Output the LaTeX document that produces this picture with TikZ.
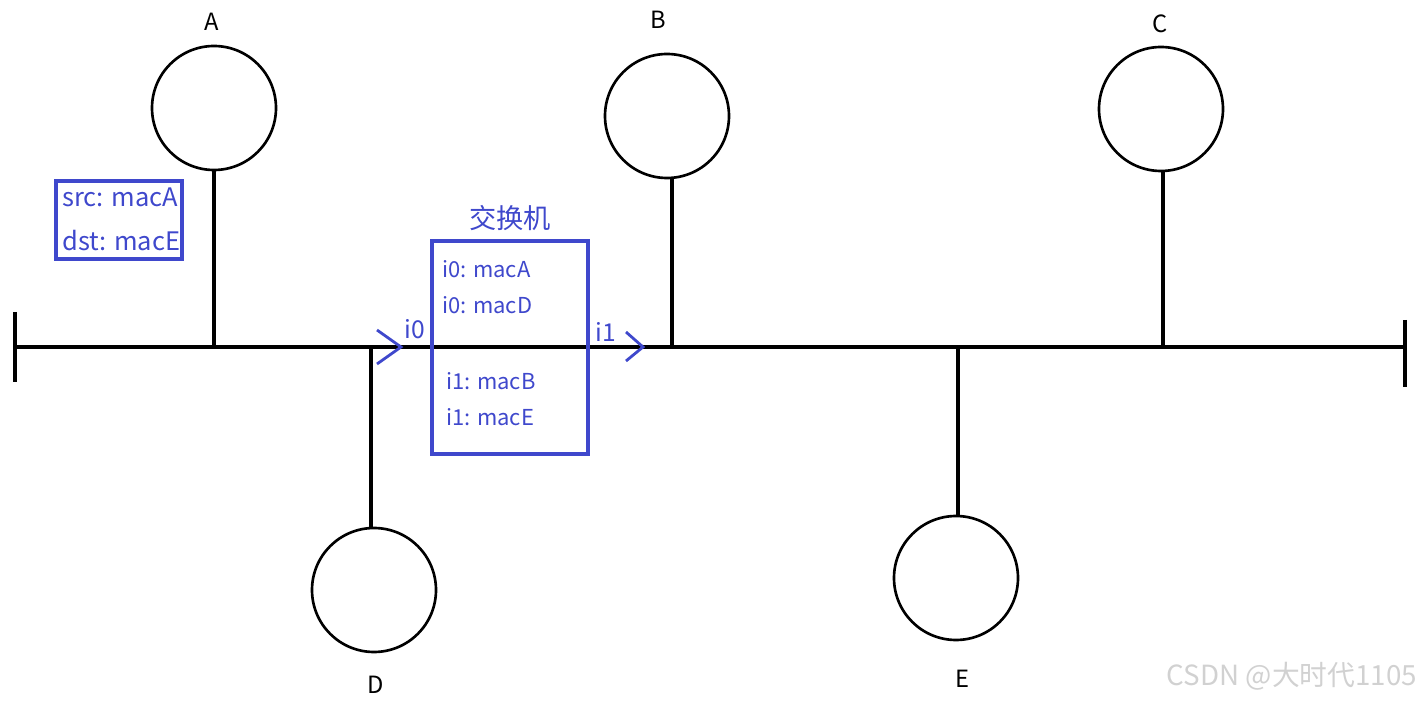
\documentclass[tikz,border=0pt]{standalone}
\usepackage{fontspec}
\setmainfont{Noto Sans CJK SC}
\definecolor{ind}{HTML}{3F48CC}
\begin{document}
\begin{tikzpicture}[x=0.02cm,y=-0.02cm,
  wire/.style={line width=2pt,black},
  host/.style={circle,draw=black,line width=1.5pt,minimum size=124*0.02cm,inner sep=0pt},
  hlabel/.style={font=\fontsize{13.5}{15}\selectfont,inner sep=0pt},
  bluebox/.style={draw=ind,line width=1.9pt},
  btext/.style={text=ind,anchor=west,inner sep=0pt},
  chev/.style={draw=ind,line width=1.6pt}]
\useasboundingbox (0,0) rectangle (1421,702);
% bus
\coordinate (L) at (15,347);
\coordinate (R) at (1405,347);
\draw[wire] (L) -- (R);
\coordinate (Lt) at (15,312); \coordinate (Lb) at (15,382);
\coordinate (Rt) at (1405,320); \coordinate (Rb) at (1405,387);
\draw[wire] (Lt) -- (Lb);
\draw[wire] (Rt) -- (Rb);
% hosts
\node[host] (A) at (214,108) {};
\node[host] (B) at (667,116) {};
\node[host] (C) at (1161,109) {};
\node[host] (D) at (374,590) {};
\node[host] (E) at (956,578) {};
\coordinate (ja) at (214,347);
\coordinate (jb) at (672,347);
\coordinate (jc) at (1163,347);
\coordinate (jd) at (371,347);
\coordinate (je) at (958,347);
\draw[wire] (A.south) -- (ja);
\draw[wire] (jb |- B.south) -- (jb);
\draw[wire] (jc |- C.south) -- (jc);
\draw[wire] (jd |- D.north) -- (jd);
\draw[wire] (je |- E.north) -- (je);
\node[hlabel] (lA) at (212,22) {A};
\node[hlabel] (lB) at (658,20) {B};
\node[hlabel] (lC) at (1160,24) {C};
\node[hlabel] (lD) at (376,685) {D};
\node[hlabel] (lE) at (962,679) {E};
% frame box
\node[bluebox,minimum width=126*0.02cm,minimum height=78*0.02cm,inner sep=0pt] (pkt) at (119,220) {};
\node[btext,font=\fontsize{14.5}{16}\selectfont] (src) at (62,197) {src: macA};
\node[btext,font=\fontsize{14.5}{16}\selectfont] (dst) at (62,241) {dst: macE};
% switch
\node[bluebox,minimum width=156*0.02cm,minimum height=213*0.02cm,inner sep=0pt] (sw) at (510,347.5) {};
\node[text=ind,font=\fontsize{15.5}{17}\selectfont,inner sep=0pt] (swt) at (510,218) {交换机};
\node[btext,font=\fontsize{12.5}{14}\selectfont] (t1) at (442,269) {i0: macA};
\node[btext,font=\fontsize{12.5}{14}\selectfont] (t2) at (442,305) {i0: macD};
\node[btext,font=\fontsize{12.5}{14}\selectfont] (t3) at (446,381) {i1: macB};
\node[btext,font=\fontsize{12.5}{14}\selectfont] (t4) at (446,417) {i1: macE};
% port arrows
\coordinate (a0) at (377,330); \coordinate (p0) at (401,347); \coordinate (b0) at (377,364);
\draw[chev] (a0) -- (p0) -- (b0);
\coordinate (a1) at (626,332); \coordinate (p1) at (643,347); \coordinate (b1) at (626,361);
\draw[chev] (a1) -- (p1) -- (b1);
\node[text=ind,font=\fontsize{14}{16}\selectfont,inner sep=0pt] (i0) at (415,329) {i0};
\node[text=ind,font=\fontsize{14}{16}\selectfont,inner sep=0pt] (i1) at (606,332) {i1};
% watermark
\node[text=black!18,font=\fontsize{15.8}{17}\selectfont,inner sep=0pt] (wm) at (1292,676) {CSDN @大时代1105};
\end{tikzpicture}
\end{document}
